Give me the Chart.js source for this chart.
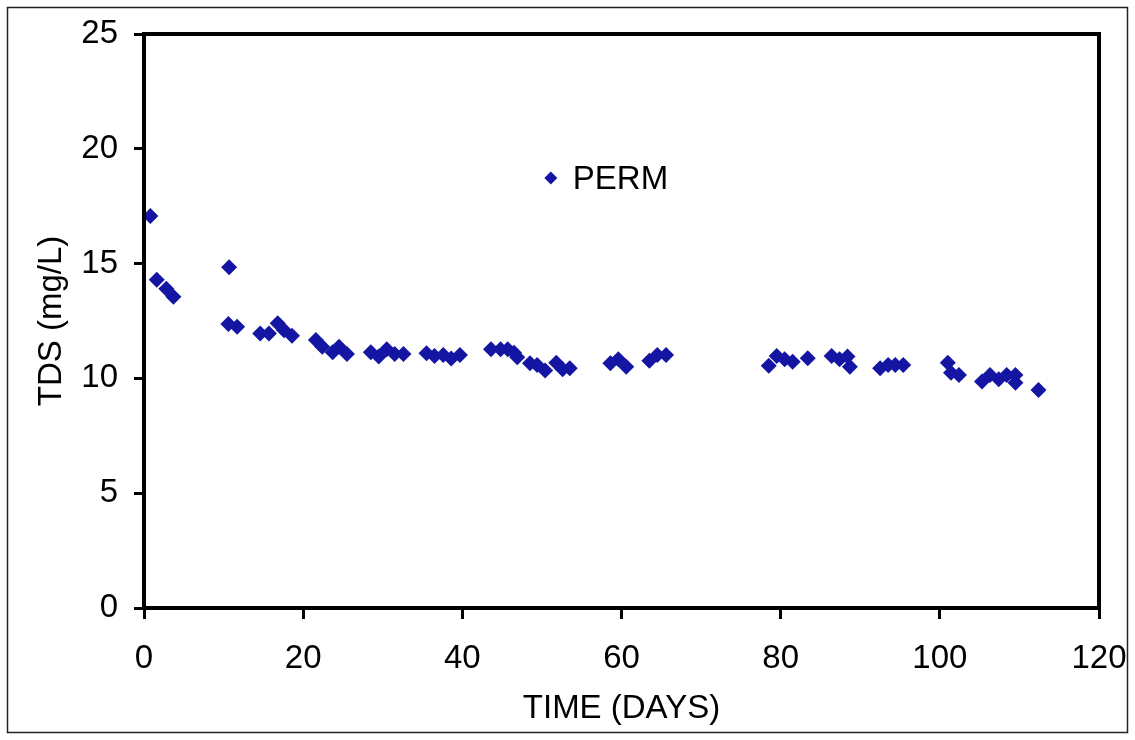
<!DOCTYPE html>
<html>
<head>
<meta charset="utf-8">
<script src="https://cdn.jsdelivr.net/npm/chart.js@4"></script>
<style>
  body { margin: 0; background: #fff; }
  canvas { display: block; }
</style>
</head>
<body>
<canvas id="myChart" width="1135" height="740"></canvas>
<script>
// data
const days = [0.8, 1.6, 2.8, 3.7, 10.7, 10.6, 11.7, 14.6, 15.7, 16.8, 17.6, 18.6,
  21.6, 22.4, 23.7, 24.5, 25.5, 28.5, 29.5, 30.5, 31.5, 32.6, 35.5, 36.5, 37.6, 38.6, 39.7,
  43.6, 44.8, 45.7, 46.5, 46.9, 48.5, 49.4, 50.4, 51.8, 52.6, 53.5, 58.6, 59.6, 60.6,
  63.5, 64.5, 65.6, 78.5, 79.5, 80.5, 81.5, 83.4, 86.4, 87.4, 88.4, 88.7,
  92.5, 93.5, 94.4, 95.4, 101.0, 101.4, 102.4, 105.3, 106.3, 107.4, 108.4, 109.5, 109.5, 112.4];
const tds = [17.07, 14.3, 13.9, 13.56, 14.84, 12.37, 12.25, 11.96, 11.96, 12.4, 12.1, 11.86,
  11.67, 11.38, 11.14, 11.38, 11.06, 11.14, 10.95, 11.27, 11.06, 11.06, 11.09, 10.98, 11.02, 10.87, 11.02,
  11.27, 11.27, 11.27, 11.12, 10.92, 10.66, 10.58, 10.34, 10.68, 10.4, 10.44, 10.66, 10.83, 10.51,
  10.77, 11.02, 11.02, 10.55, 10.98, 10.83, 10.73, 10.88, 10.98, 10.83, 10.95, 10.51,
  10.44, 10.58, 10.58, 10.58, 10.68, 10.25, 10.15, 9.86, 10.15, 9.96, 10.15, 10.15, 9.81, 9.49];
const xTicks = [0, 20, 40, 60, 80, 100, 120];
const yTicks = [0, 5, 10, 15, 20, 25];
const seriesName = 'PERM';

const FONT = 'Liberation Sans, Arial, sans-serif';
const FS = 33;
const BLUE = '#1515a3';

// plot frame + outer border + legend inside the plot
const framePlugin = {
  id: 'frame',
  afterDraw(chart) {
    const ctx = chart.ctx;
    const a = chart.chartArea;
    ctx.save();
    ctx.strokeStyle = '#000';
    ctx.lineWidth = 4;
    ctx.strokeRect(a.left, a.top, a.right - a.left, a.bottom - a.top);
    ctx.lineWidth = 1.5;
    ctx.strokeStyle = '#222';
    ctx.strokeRect(7.5, 7.5, chart.width - 15, chart.height - 15);

    // legend
    const lx = a.left + (a.right - a.left) * 0.426;
    const ly = a.top + (a.bottom - a.top) * 0.251;
    ctx.fillStyle = BLUE;
    ctx.beginPath();
    ctx.moveTo(lx - 6.5, ly);
    ctx.lineTo(lx, ly - 6.5);
    ctx.lineTo(lx + 6.5, ly);
    ctx.lineTo(lx, ly + 6.5);
    ctx.closePath();
    ctx.fill();
    ctx.fillStyle = '#000';
    ctx.font = FS + 'px ' + FONT;
    ctx.textBaseline = 'middle';
    ctx.textAlign = 'left';
    ctx.fillText(seriesName, lx + 22, ly + 2);
    ctx.restore();
  }
};

document.addEventListener('DOMContentLoaded', function(){
  const ctx = document.getElementById('myChart');
  new Chart(ctx, {
    type: 'scatter',
    data: {
      datasets: [{
        label: seriesName,
        data: days.map((d, i) => ({x: d, y: tds[i]})),
        pointStyle: 'rectRot',
        pointRadius: 8,
        pointHoverRadius: 8,
        backgroundColor: BLUE,
        borderColor: BLUE,
        borderWidth: 0
      }]
    },
    options: {
      responsive: false,
      animation: false,
      devicePixelRatio: 1,
      layout: { padding: { top: 34, right: 36, left: 0, bottom: 0 } },
      plugins: {
        legend: { display: false },
        tooltip: { enabled: false }
      },
      scales: {
        x: {
          type: 'linear',
          min: 0, max: 120,
          afterFit: s => { s.height = 132; s.paddingLeft = 0; s.paddingRight = 0; },
          afterBuildTicks: s => { s.ticks = xTicks.map(v => ({value: v})); },
          ticks: { color: '#000', font: { family: FONT, size: FS }, padding: 20 },
          grid: { drawOnChartArea: false, drawTicks: true, tickLength: 11, color: '#000', lineWidth: 3 },
          border: { display: true, color: '#000', width: 4 },
          title: { display: true, text: 'TIME (DAYS)', color: '#000',
                   font: { family: FONT, size: FS }, padding: { top: 0, bottom: 11 } }
        },
        y: {
          min: 0, max: 25,
          afterFit: s => { s.width = 144; s.paddingTop = 0; s.paddingBottom = 0; },
          afterBuildTicks: s => { s.ticks = yTicks.map(v => ({value: v})); },
          ticks: { color: '#000', font: { family: FONT, size: FS }, padding: 16 },
          grid: { drawOnChartArea: false, drawTicks: true, tickLength: 10, color: '#000', lineWidth: 3 },
          border: { display: true, color: '#000', width: 4 },
          title: { display: true, text: 'TDS (mg/L)', color: '#000',
                   font: { family: FONT, size: FS }, padding: { top: 32, bottom: 0 } }
        }
      }
    },
    plugins: [framePlugin]
  });
});
</script>
</body>
</html>
